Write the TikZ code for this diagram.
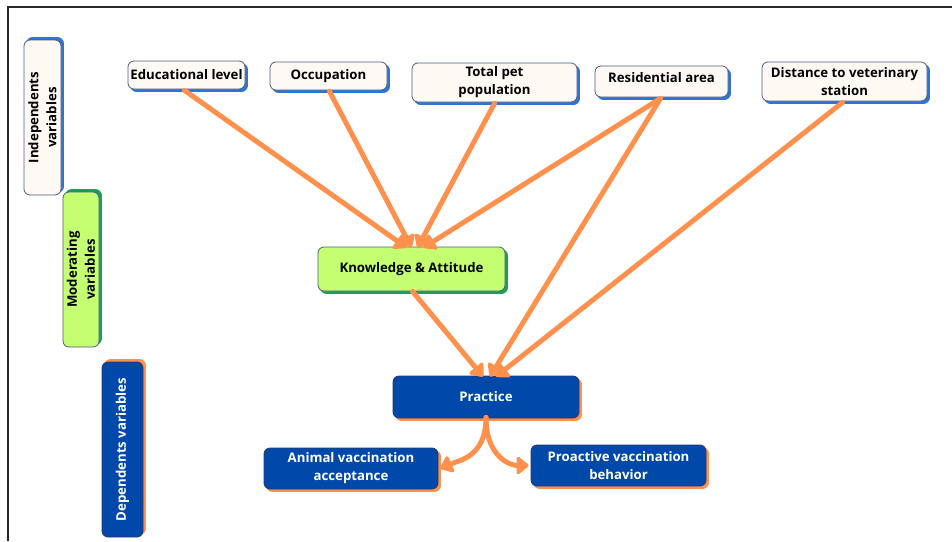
\documentclass[tikz,border=0pt]{standalone}
\usepackage{fontspec}
\setmainfont{Open Sans}
\usetikzlibrary{arrows.meta,shadows}
\definecolor{cream}{HTML}{FEF9F3}
\definecolor{edge}{HTML}{4E5D80}
\definecolor{sblue}{HTML}{2F74D0}
\definecolor{lgreen}{HTML}{C4FF72}
\definecolor{dgreen}{HTML}{1E9E5A}
\definecolor{dblue}{HTML}{0049AB}
\definecolor{navy}{HTML}{243A6E}
\definecolor{orng}{HTML}{FF914D}
\tikzset{
  base/.style={rounded corners=6pt, draw=edge, line width=0.8pt, align=center,
    font=\fontsize{13.2}{18}\selectfont\bfseries, inner sep=2pt},
  indep/.style={base, fill=cream, text=black,
    general shadow={shadow xshift=2.5pt, shadow yshift=-2.5pt, fill=sblue, draw=sblue}},
  moder/.style={base, fill=lgreen, text=black,
    general shadow={shadow xshift=2.5pt, shadow yshift=-2.5pt, fill=dgreen, draw=dgreen}},
  depen/.style={base, fill=dblue, draw=navy, text=white,
    general shadow={shadow xshift=2.5pt, shadow yshift=-2.5pt, fill=orng, draw=orng}},
  vindep/.style={base, fill=cream, text=black, rotate=90,
    general shadow={shadow xshift=2.5pt, shadow yshift=2.5pt, fill=sblue, draw=sblue}},
  vmoder/.style={base, fill=lgreen, text=black, rotate=90,
    general shadow={shadow xshift=2.5pt, shadow yshift=2.5pt, fill=dgreen, draw=dgreen}},
  vdepen/.style={base, fill=dblue, draw=navy, text=white, rotate=90,
    general shadow={shadow xshift=2.5pt, shadow yshift=2.5pt, fill=orng, draw=orng}},
  arr/.style={draw=orng, line width=5pt, line cap=round,
    -{Triangle[width=20pt,length=13pt,round]}},
}
\begin{document}
\begin{tikzpicture}[x=1pt,y=-1pt]
\useasboundingbox (0,0) rectangle (952,541);
\draw[line width=1.2pt, black!85] (8,541) -- (8,7) -- (952,7);

% category boxes (vertical)
\node[vindep, minimum width=155pt, minimum height=37pt] (cind) at (42.5,117.5) {Independents\\variables};
\node[vmoder, minimum width=155pt, minimum height=36pt] (cmod) at (81,269.5) {Moderating\\variables};
\node[vdepen, minimum width=175pt, minimum height=41pt] (cdep) at (122.5,449.5) {Dependents variables};

% independent variables
\node[indep, minimum width=117pt, minimum height=28pt] (edu) at (186.5,75) {Educational level};
\node[indep, minimum width=117pt, minimum height=28pt] (occ) at (328.5,76) {Occupation};
\node[indep, minimum width=165pt, minimum height=39pt] (tot) at (494.5,82.5) {Total pet\\population};
\node[indep, minimum width=133pt, minimum height=31pt, text depth=8pt] (res) at (661.5,81.5) {Residential area};
\node[indep, minimum width=165pt, minimum height=39pt] (dist) at (844.5,81.5) {Distance to veterinary\\station};

% moderating
\node[moder, minimum width=187pt, minimum height=44pt] (ka) at (411.5,269) {Knowledge \& Attitude};

% dependent
\node[depen, minimum width=186pt, minimum height=42pt] (prac) at (486,397) {Practice};
\node[depen, minimum width=174pt, minimum height=41pt] (ani) at (351,468.5) {Animal vaccination\\acceptance};
\node[depen, minimum width=175pt, minimum height=41pt] (pro) at (618.5,465.5) {Proactive vaccination\\behavior};

% connectors
\draw[arr] ([xshift=-2pt,yshift=-1pt]edu.south) -- ([xshift=-5pt,yshift=-1pt]ka.north);
\draw[arr] ([xshift=1pt,yshift=-1pt]occ.south) -- ([xshift=0pt,yshift=-1pt]ka.north);
\draw[arr] ([yshift=-1pt]tot.south) -- ([xshift=6pt,yshift=-1pt]ka.north);
\draw[arr] ([xshift=-1pt,yshift=-1pt]res.south) -- ([xshift=12pt,yshift=-1pt]ka.north);
\draw[arr] ([xshift=-1pt,yshift=-1pt]res.south) -- ([xshift=4pt,yshift=-1pt]prac.north);
\draw[arr] ([xshift=-2pt,yshift=-1pt]dist.south) -- ([xshift=10pt,yshift=-1pt]prac.north);
\draw[arr] ([xshift=1pt]ka.south) -- ([xshift=-3pt,yshift=-1pt]prac.north);
\draw[arr] ([yshift=1pt]prac.south) .. controls +(0,40) and +(18,-8) .. ([xshift=2pt]ani.east);
\draw[arr] ([yshift=1pt]prac.south) .. controls +(0,40) and +(-18,0) .. ([xshift=-2pt]pro.west);
\end{tikzpicture}
\end{document}
